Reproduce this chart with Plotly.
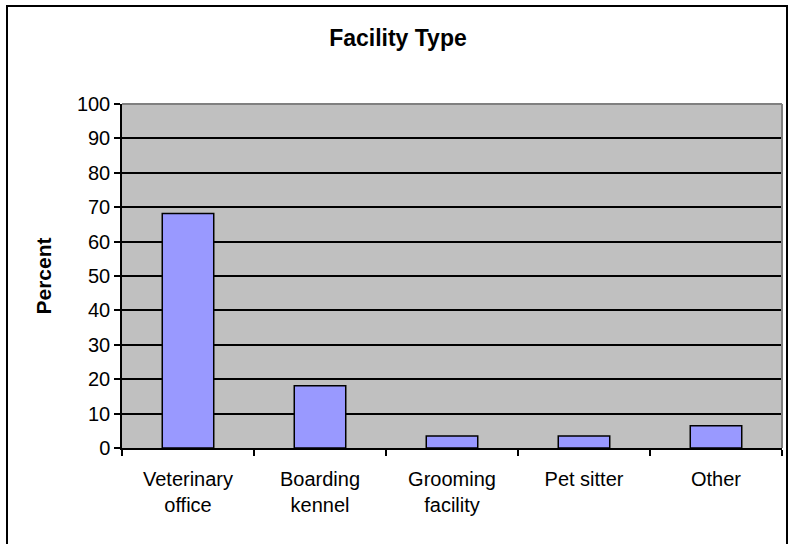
import plotly.graph_objects as go

categories = ["Veterinary<br>office", "Boarding<br>kennel", "Grooming<br>facility", "Pet sitter", "Other"]
percent = [68.2, 18.1, 3.5, 3.5, 6.5]
y_ticks = list(range(0, 101, 10))

# plot area in pixels
W, H = 788, 544
L, R, T, B = 122, 782, 104, 448


def px_x(p):
    return (p - L) / (R - L)


def px_y(p):
    return (B - p) / (B - T)


fig = go.Figure()

fig.add_trace(go.Bar(
    x=categories,
    y=percent,
    marker=dict(color="#9999FF", line=dict(color="black", width=1.5)),
    width=0.39,
))

font = "Liberation Sans, Arial, sans-serif"

fig.update_layout(
    width=W, height=H,
    margin=dict(l=L, r=W - R, t=T, b=H - B),
    paper_bgcolor="white",
    plot_bgcolor="#C0C0C0",
    showlegend=False,
    font=dict(family=font, size=20, color="black"),
    title=dict(
        text="<b>Facility Type</b>",
        x=0.505, xanchor="center",
        y=1 - 38 / H, yanchor="middle",
        font=dict(size=23),
    ),
    xaxis=dict(
        showgrid=False,
        showline=True, linecolor="black", linewidth=1.5,
        ticks="outside", ticklen=6, tickcolor="black", tickwidth=1.5,
        tickson="boundaries",
        tickfont=dict(size=20),
        ticklabelstandoff=12,
        range=[-0.5, 4.5],
    ),
    yaxis=dict(
        range=[0, 100],
        tickvals=y_ticks,
        showgrid=True, gridcolor="black", gridwidth=1.5,
        showline=True, linecolor="black", linewidth=1.5,
        ticks="outside", ticklen=6, tickcolor="black", tickwidth=1.5,
        tickfont=dict(size=20),
        zeroline=False,
        title=dict(text="<b>Percent</b>", font=dict(size=21), standoff=20),
    ),
    shapes=[
        # grey plot-area border on top and right
        dict(type="line", xref="paper", yref="paper", x0=0, x1=1, y0=1, y1=1,
             line=dict(color="#808080", width=2)),
        dict(type="line", xref="paper", yref="paper", x0=1, x1=1, y0=0, y1=1,
             line=dict(color="#808080", width=2)),
        # outer chart frame
        dict(type="rect", xref="paper", yref="paper",
             x0=px_x(7), x1=px_x(787), y0=px_y(560), y1=px_y(6),
             line=dict(color="black", width=2), layer="below"),
    ],
)

fig.write_html("out.html", config=dict(displayModeBar=False),
               post_script="document.body.style.margin='0px';")
